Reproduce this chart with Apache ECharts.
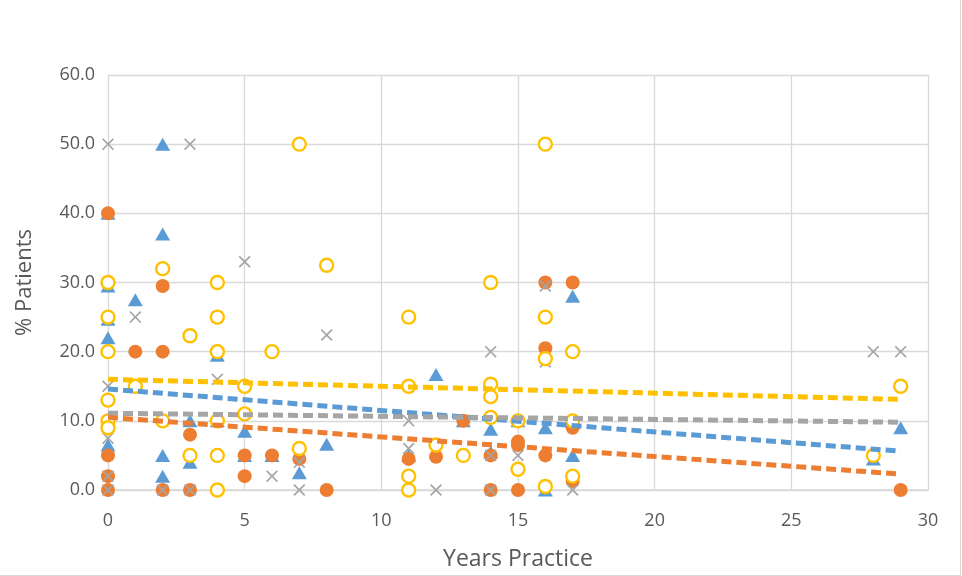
<!DOCTYPE html>
<html><head><meta charset="utf-8">
<script src="https://cdn.jsdelivr.net/npm/echarts@6/dist/echarts.min.js"></script>
<style>html,body{margin:0;padding:0;background:#fff}#c{width:960px;height:575px;border-right:1px solid #D9D9D9;border-bottom:1px solid #D9D9D9}</style>
</head><body><div id="c"></div>
<script>
// data: [years practice, % patients]
const blueTri = [[0,40],[0,29.5],[0,24.7],[0,22],[0,6.5],[1,27.5],[2,50],[2,37],[2,5],[2,2],[3,4],[3,10],[4,19.5],[4,10],[5,8.5],[5,5],[6,5],[7,2.5],[8,6.6],[11,5],[12,16.7],[13,10],[14,8.8],[14,5.5],[15,10],[16,9],[16,0],[17,28],[17,5],[28,4.5],[29,9]];
const orangeDot = [[0,40],[0,5],[0,2],[0,0],[1,20],[2,29.5],[2,20],[2,0],[3,8],[3,0],[5,5],[5,2],[6,5],[7,4.5],[8,0],[11,4.5],[12,4.8],[13,10],[14,5],[14,0],[15,7],[15,6.5],[15,0],[16,30],[16,20.5],[16,5],[17,30],[17,9],[17,1.3],[29,0]];
const grayX = [[0,50],[0,15],[0,7.5],[0,2],[0,0],[1,25],[2,0],[3,50],[3,0],[4,25],[4,16],[5,33],[6,2],[7,4],[7,0],[8,22.4],[11,10],[11,6],[12,0],[14,20],[14,5],[14,0],[15,5],[16,29.5],[16,18.5],[17,0],[28,20],[29,20]];
const yellowRing = [[0,30],[0,25],[0,20],[0,13],[0,10],[0,9],[1,15],[2,32],[2,10],[3,22.3],[3,5],[4,30],[4,25],[4,20],[4,10],[4,5],[4,0],[5,15],[5,11],[6,20],[7,50],[7,6],[8,32.5],[11,25],[11,15],[11,2],[11,0],[12,6.5],[13,5],[14,30],[14,15.3],[14,13.5],[14,10.5],[15,10],[15,3],[16,50],[16,25],[16,19],[16,0.5],[17,20],[17,10],[17,2],[28,5],[29,15]];
// trendline values at x = trendX[0] and trendX[1]
const trendX = [0, 29];
const trendBlue = [14.6, 5.6];
const trendOrange = [10.5, 2.3];
const trendGray = [11.1, 9.8];
const trendYellow = [16.0, 13.1];
const xTicks = {min:0, max:30, interval:5};
const yTicks = {min:0, max:60, interval:10};

const C = {blue:'#5B9BD5', orange:'#ED7D31', gray:'#A5A5A5', yellow:'#FFC000'};
const FONT = 'Open Sans';
const crossPath = 'path://M0,1L1,0L5,4L9,0L10,1L6,5L10,9L9,10L5,6L1,10L0,9L4,5Z';
function trend(vals, color){
  return {type:'line', data: trendX.map((x,i)=>[x, vals[i]]), symbol:'none', z:5, silent:true,
    lineStyle:{color:color, width:5, type:[10,5]}};
}
const chart = echarts.init(document.getElementById('c'), null, {renderer:'canvas'});
chart.setOption({
  animation:false,
  grid:{left:108, right:32, top:75, bottom:85, outerBoundsMode:'none', containLabel:false},
  xAxis:{type:'value', min:xTicks.min, max:xTicks.max, interval:xTicks.interval,
    name:'Years Practice', nameLocation:'middle', nameGap:58,
    nameTextStyle:{color:'#595959', fontSize:23, fontFamily:FONT},
    axisLine:{show:true, lineStyle:{color:'#D9D9D9', width:1.5}}, axisTick:{show:false},
    axisLabel:{color:'#595959', fontSize:18, margin:22, fontFamily:FONT},
    splitLine:{show:true, lineStyle:{color:'#D9D9D9', width:1.3}}},
  yAxis:{type:'value', min:yTicks.min, max:yTicks.max, interval:yTicks.interval,
    name:'% Patients', nameLocation:'middle', nameGap:72, nameRotate:90,
    nameTextStyle:{color:'#595959', fontSize:22, fontFamily:FONT},
    axisLine:{show:false}, axisTick:{show:false},
    axisLabel:{color:'#595959', fontSize:18, margin:13, fontFamily:FONT, formatter:v=>v.toFixed(1)},
    splitLine:{show:true, lineStyle:{color:'#D9D9D9', width:1.3}}},
  series:[
    {type:'scatter', data:blueTri, symbol:'triangle', symbolSize:[15,13], z:2, itemStyle:{color:C.blue, opacity:1}},
    {type:'scatter', data:orangeDot, symbol:'circle', symbolSize:14, z:3, itemStyle:{color:C.orange, opacity:1}},
    {type:'scatter', data:grayX, symbol:crossPath, symbolSize:12, z:4, itemStyle:{color:C.gray, opacity:1}},
    {type:'scatter', data:yellowRing, symbol:'circle', symbolSize:13, z:4, itemStyle:{color:'#fff', borderColor:C.yellow, borderWidth:2.4, opacity:1}},
    trend(trendYellow, C.yellow),
    trend(trendBlue, C.blue),
    trend(trendGray, C.gray),
    trend(trendOrange, C.orange)
  ]
});
</script></body></html>
